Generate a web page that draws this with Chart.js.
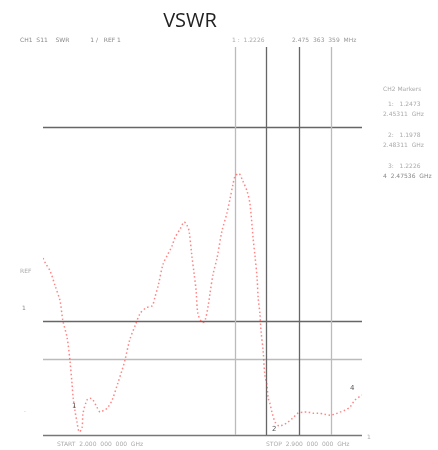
<!DOCTYPE html>
<html>
<head>
<meta charset="utf-8">
<script src="https://cdn.jsdelivr.net/npm/chart.js@4/dist/chart.umd.min.js"></script>
<style>
  body { margin: 0; background: #fff; }
  #wrap { position: relative; width: 438px; height: 450px; font-family: "DejaVu Sans", sans-serif; }
  #wrap canvas { position: absolute; left: 0; top: 0; }
  .t { position: absolute; font-size: 6px; color: #aaa; white-space: pre; line-height: 1; }
  .mk { position: absolute; font-size: 7px; color: #555; line-height: 1; }
  #title { position: absolute; left: 0; width: 380px; top: 6px; text-align: center;
           font-family: "Open Sans", sans-serif; font-size: 20px; color: #222; }
</style>
</head>
<body>
<div id="wrap">
  <canvas id="myChart" width="438" height="450"></canvas>
  <div id="title">VSWR</div>
  <div class="t" style="left:20px;top:37px;color:#888">CH1  S11    SWR           1 /   REF 1</div>
  <div class="t" style="left:232px;top:37px">1 :  1.2226</div>
  <div class="t" style="left:292px;top:37px;color:#999">2.475  363  359  MHz</div>
  <div class="t" style="left:383px;top:86px">CH2 Markers</div>
  <div class="t" style="left:388px;top:101px">1:   1.2473</div>
  <div class="t" style="left:383px;top:111px">2.45311  GHz</div>
  <div class="t" style="left:388px;top:132px">2:   1.1978</div>
  <div class="t" style="left:383px;top:142px">2.48311  GHz</div>
  <div class="t" style="left:388px;top:163px">3:   1.2226</div>
  <div class="t" style="left:383px;top:173px;color:#888">4  2.47536  GHz</div>
  <div class="t" style="left:20px;top:268px">REF</div>
  <div class="t" style="left:22px;top:305px;color:#888">1</div>
  <div class="t" style="left:24px;top:407px">.</div>
  <div class="t" style="left:57px;top:441px">START  2.000  000  000  GHz</div>
  <div class="t" style="left:266px;top:441px">STOP  2.900  000  000  GHz</div>
  <div class="t" style="left:367px;top:434px">1</div>
  <div class="mk" style="left:72px;top:403px">1</div>
  <div class="mk" style="left:272px;top:426px">2</div>
  <div class="mk" style="left:350px;top:385px">4</div>
</div>
<script>
'use strict'

// sweep frequency (MHz) and trace value (divisions, 0 = bottom line)
const freqs = [2000, 2008, 2020, 2034, 2048, 2056, 2068, 2076, 2082, 2085,
  2090, 2096, 2102, 2110, 2113, 2124, 2133, 2141, 2152, 2161,
  2172, 2181, 2195, 2212, 2223, 2231, 2245, 2260, 2274, 2291,
  2308, 2316, 2325, 2339, 2353, 2364, 2372, 2387, 2398, 2406,
  2412, 2420, 2426, 2432, 2437, 2449, 2457, 2466, 2471, 2480,
  2491, 2505, 2519, 2528, 2536, 2542, 2553, 2564, 2576, 2584,
  2593, 2598, 2604, 2607, 2612, 2615, 2621, 2626, 2632, 2635,
  2640, 2646, 2655, 2666, 2677, 2688, 2705, 2719, 2734, 2748,
  2762, 2776, 2793, 2810, 2824, 2838, 2852, 2866, 2880, 2900];

const vswr = [4.56, 4.41, 4.23, 3.85, 3.46, 2.95, 2.51, 1.92, 1.31, 0.97,
  0.64, 0.33, 0.08, 0.18, 0.56, 0.90, 0.95, 0.90, 0.72, 0.59,
  0.64, 0.69, 0.90, 1.36, 1.67, 1.92, 2.46, 2.82, 3.13, 3.28,
  3.33, 3.56, 3.85, 4.41, 4.67, 4.87, 5.08, 5.31, 5.49, 5.41,
  5.26, 4.62, 4.18, 3.72, 3.13, 2.90, 2.95, 3.33, 3.64, 4.15,
  4.56, 5.26, 5.72, 6.10, 6.46, 6.67, 6.74, 6.54, 6.28, 5.95,
  5.05, 4.62, 4.05, 3.54, 3.13, 2.69, 2.18, 1.54, 1.28, 0.97,
  0.82, 0.59, 0.33, 0.23, 0.26, 0.31, 0.44, 0.56, 0.59, 0.59,
  0.56, 0.56, 0.54, 0.51, 0.54, 0.59, 0.64, 0.72, 0.90, 1.03];

// reference lines of the screen
const hLines = [7.95, 2.95, 1.97, 0];
const hColors = ['#666', '#666', '#bbb', '#777'];
const vLines = [2542, 2629, 2722, 2813];
const vColors = ['#bbb', '#666', '#666', '#bbb'];

let points = [];
for (let i = 0; i < freqs.length; i++) {
  points.push({x: freqs[i], y: vswr[i]});
}

const screenLines = {
  id: 'screenLines',
  beforeDatasetsDraw(chart) {
    const ctx = chart.ctx;
    const xs = chart.scales.x;
    const ys = chart.scales.y;
    ctx.save();
    ctx.lineWidth = 1.3;
    for (let i = 0; i < hLines.length; i++) {
      const y = Math.round(ys.getPixelForValue(hLines[i])) + 0.5;
      ctx.strokeStyle = hColors[i];
      ctx.beginPath();
      ctx.moveTo(xs.left, y);
      ctx.lineTo(xs.right, y);
      ctx.stroke();
    }
    for (let i = 0; i < vLines.length; i++) {
      const x = Math.round(xs.getPixelForValue(vLines[i])) + 0.5;
      ctx.strokeStyle = vColors[i];
      ctx.beginPath();
      ctx.moveTo(x, ys.top);
      ctx.lineTo(x, ys.bottom);
      ctx.stroke();
    }
    ctx.restore();
  }
};

const ctx = document.getElementById('myChart').getContext('2d');
const myChart = new Chart(ctx, {
  type: 'scatter',
  data: {
    datasets: [{
      label: 'S11 VSWR',
      data: points,
      showLine: true,
      borderColor: 'rgba(255, 50, 50, 0.6)',
      borderWidth: 1.5,
      borderDash: [1.5, 2.5],
      pointRadius: 0,
      tension: 0.3
    }]
  },
  options: {
    responsive: false,
    animation: false,
    layout: { padding: { left: 43, right: 76, top: 47, bottom: 15 } },
    plugins: { legend: { display: false }, tooltip: { enabled: false } },
    scales: {
      x: { type: 'linear', min: 2000, max: 2900, display: false },
      y: { type: 'linear', min: 0, max: 10, display: false }
    }
  },
  plugins: [screenLines]
});
</script>
</body>
</html>
